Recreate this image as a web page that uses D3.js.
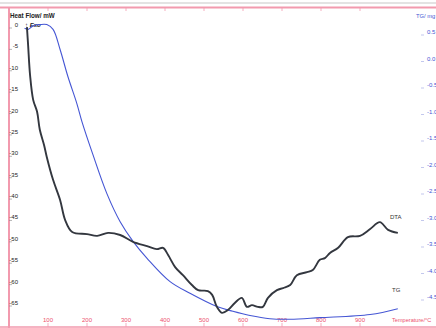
<!DOCTYPE html>
<html>
<head>
<meta charset="utf-8">
<script src="https://cdn.jsdelivr.net/npm/d3@7"></script>
<style>
  html, body { margin: 0; padding: 0; background: #fff; }
  svg { display: block; font-family: "Liberation Sans", Arial, sans-serif; }
</style>
</head>
<body>
<svg id="chart" width="436" height="328"></svg>
<script>
// Temperature (°C) readings for the DTA (heat flow, mW) trace
const dtaTemp = [46, 49, 54, 62, 72, 79, 90, 97, 113, 131, 144, 162, 200, 226, 254, 285, 318, 354, 379, 395,
  408, 426, 446, 469, 485, 510, 521, 533, 546, 562, 579, 597, 610, 623, 638, 651, 664, 687, 703, 721,
  738, 764, 779, 797, 810, 823, 844, 869, 900, 926, 951, 972, 997];
const dtaFlow = [-0.5, -4.7, -11.7, -17.5, -20.3, -24.5, -28.1, -30.9, -36.2, -40.9, -45.6, -48.4, -48.9, -49.3, -48.6, -49.1, -50.7, -51.7, -52.4, -52.1,
  -53.8, -56.6, -58.5, -60.8, -62.0, -62.2, -63.1, -65.9, -67.3, -66.6, -65.0, -63.8, -65.9, -65.5, -65.9, -65.9, -63.8, -62.0, -61.5, -60.8,
  -58.5, -57.8, -57.3, -54.9, -54.5, -53.3, -52.1, -49.6, -49.3, -47.7, -46.1, -47.9, -48.6];

// Temperature (°C) readings for the TG (mass, mg) trace
const tgTemp = [40, 49, 62, 79, 97, 113, 131, 151, 174, 187, 215, 251, 285, 318, 354, 413, 464, 533, 574, 618, 669, 721, 797, 926, 997];
const tgMass = [0.57, 0.55, 0.62, 0.64, 0.64, 0.55, 0.17, -0.34, -0.85, -1.19, -1.81, -2.55, -3.08, -3.45, -3.77, -4.21, -4.43, -4.68, -4.77, -4.85, -4.91, -4.92, -4.89, -4.83, -4.72];

// Axis tick values
const tempTicks = [100, 200, 300, 400, 500, 600, 700, 800, 900];
const flowTicks = [0, -5, -10, -15, -20, -25, -30, -35, -40, -45, -50, -55, -60, -65];
const massTicks = [0.5, 0.0, -0.5, -1.0, -1.5, -2.0, -2.5, -3.0, -3.5, -4.0, -4.5];

const svg = d3.select("#chart");

const x = d3.scaleLinear().domain([0, 1000]).range([9, 399]);
const yFlow = d3.scaleLinear().domain([0, -65]).range([25, 303]);
const yMass = d3.scaleLinear().domain([0.5, -4.5]).range([32, 297]);

const pink = "#f29aae";
const red = "#ec4f6c";
const blue = "#4556d4";

// frame lines
svg.append("line").attr("x1", 0).attr("x2", 436).attr("y1", 3).attr("y2", 3)
  .attr("stroke", "#c8c8c8").attr("stroke-width", 1.2);
svg.append("line").attr("x1", 0).attr("x2", 436).attr("y1", 7.5).attr("y2", 7.5)
  .attr("stroke", pink).attr("stroke-width", 2);
svg.append("line").attr("x1", 9).attr("x2", 9).attr("y1", 7).attr("y2", 328)
  .attr("stroke", pink).attr("stroke-width", 2);
svg.append("line").attr("x1", 0).attr("x2", 436).attr("y1", 327).attr("y2", 327)
  .attr("stroke", pink).attr("stroke-width", 1.5);

// top ticks
svg.append("g").selectAll("line").data(tempTicks).join("line")
  .attr("x1", d => x(d)).attr("x2", d => x(d)).attr("y1", 8).attr("y2", 11)
  .attr("stroke", pink).attr("stroke-width", 0.8);

// bottom temperature axis
const xAxis = svg.append("g");
xAxis.selectAll("line").data(tempTicks).join("line")
  .attr("x1", d => x(d)).attr("x2", d => x(d)).attr("y1", 323).attr("y2", 327)
  .attr("stroke", pink).attr("stroke-width", 0.8);
xAxis.selectAll("text").data(tempTicks).join("text")
  .attr("x", d => x(d)).attr("y", 321.5)
  .attr("text-anchor", "middle").attr("font-size", 6).attr("fill", red)
  .text(d => d);
svg.append("text").attr("x", 392).attr("y", 322).attr("font-size", 5.6).attr("fill", red)
  .text("Temperature/°C");

// left heat-flow axis
const yAxisL = svg.append("g");
yAxisL.selectAll("text").data(flowTicks).join("text")
  .attr("x", 18).attr("y", d => yFlow(d) + 2)
  .attr("text-anchor", "end").attr("font-size", 6).attr("fill", "#222")
  .text(d => d);
yAxisL.selectAll("line").data(flowTicks).join("line")
  .attr("x1", 9).attr("x2", 12).attr("y1", d => yFlow(d) + 3).attr("y2", d => yFlow(d) + 3)
  .attr("stroke", "#888").attr("stroke-width", 0.6);
svg.append("text").attr("x", 10).attr("y", 18).attr("font-size", 6.3).attr("font-weight", "bold")
  .attr("fill", "#222").text("Heat Flow/ mW");
svg.append("text").attr("x", 25).attr("y", 27).attr("font-size", 6).attr("font-weight", "bold")
  .attr("font-style", "italic").attr("fill", "#222").text("↑ Exo");

// right mass axis
const yAxisR = svg.append("g");
yAxisR.selectAll("text").data(massTicks).join("text")
  .attr("x", 427).attr("y", d => yMass(d) + 2)
  .attr("font-size", 6).attr("fill", blue)
  .text(d => d.toFixed(1));
yAxisR.selectAll("line").data(massTicks).join("line")
  .attr("x1", 421).attr("x2", 424).attr("y1", d => yMass(d) + 3).attr("y2", d => yMass(d) + 3)
  .attr("stroke", "#9aa3e0").attr("stroke-width", 0.6);
svg.append("text").attr("x", 416).attr("y", 18).attr("font-size", 5.8).attr("fill", blue)
  .text("TG/ mg");

// TG curve
const tgLine = d3.line().x((d, i) => x(tgTemp[i])).y(d => yMass(d)).curve(d3.curveCatmullRom);
svg.append("path").attr("d", tgLine(tgMass))
  .attr("fill", "none").attr("stroke", blue).attr("stroke-width", 1.1);

// DTA curve
const dtaLine = d3.line().x((d, i) => x(dtaTemp[i])).y(d => yFlow(d)).curve(d3.curveCatmullRom);
svg.append("path").attr("d", dtaLine(dtaFlow))
  .attr("fill", "none").attr("stroke", "#33373f").attr("stroke-width", 1.9);

// series labels
svg.append("text").attr("x", 390).attr("y", 219).attr("font-size", 6).attr("fill", "#333").text("DTA");
svg.append("text").attr("x", 392).attr("y", 292).attr("font-size", 6).attr("fill", "#333").text("TG");
</script>
</body>
</html>
